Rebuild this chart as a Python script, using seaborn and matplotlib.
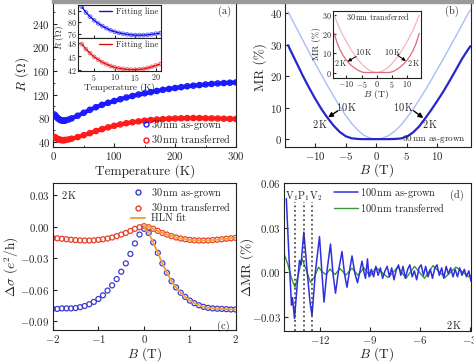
import numpy as np
import matplotlib
matplotlib.use("Agg")
import matplotlib.pyplot as plt
import seaborn as sns
from matplotlib.ticker import FuncFormatter, MultipleLocator, FixedLocator
from matplotlib.lines import Line2D
from matplotlib.patches import Rectangle

sns.set_style("ticks")
plt.rcParams["font.family"] = ["cmr10", "DejaVu Serif"]
plt.rcParams["mathtext.fontset"] = "cm"
plt.rcParams["axes.formatter.use_mathtext"] = True
plt.rcParams["axes.unicode_minus"] = True

# ---------------- data ----------------
# (a) R vs T
temp_main = [2, 4, 6, 8, 10, 12, 14, 16, 18, 20, 25, 30, 40, 50, 60, 70, 80, 90, 100,
             110, 120, 130, 140, 150, 160, 170, 180, 190, 200, 210, 220, 230, 240,
             250, 260, 270, 280, 290, 300]
R_grown = [86.0, 83.5, 81.0, 79.3, 77.8, 76.6, 75.9, 75.6, 75.7, 76.0, 77.5, 79.5,
           84.0, 89.0, 94.0, 98.5, 102.5, 106.0, 109.0, 112.0, 115.0, 117.5, 120.0,
           122.0, 124.0, 126.0, 128.0, 129.5, 131.0, 132.5, 134.0, 135.0, 136.0,
           137.0, 138.0, 138.8, 139.4, 140.0, 140.5]
R_trans = [48.0, 46.5, 45.3, 44.3, 43.5, 43.0, 42.6, 42.5, 42.6, 43.0, 43.8, 45.0,
           47.8, 51.0, 54.5, 58.0, 61.3, 64.3, 67.0, 69.3, 71.3, 73.0, 74.5, 75.7,
           76.7, 77.6, 78.3, 78.9, 79.4, 79.7, 80.0, 80.1, 80.0, 79.8, 79.6, 79.3,
           79.0, 78.7, 78.5]
temp_inset = [2, 3, 4, 5, 6, 7, 8, 9, 10, 11, 12, 13, 14, 15, 16, 17, 18, 19, 20, 21]
Rin_grown = [85.5, 83.5, 82.0, 80.7, 79.6, 78.7, 77.9, 77.2, 76.7, 76.3, 76.0, 75.8,
             75.6, 75.5, 75.5, 75.5, 75.6, 75.8, 76.0, 76.2]
Rin_trans = [47.7, 46.6, 45.7, 44.9, 44.3, 43.7, 43.3, 42.9, 42.6, 42.4, 42.25, 42.15,
             42.1, 42.1, 42.15, 42.25, 42.45, 42.7, 43.0, 43.3]

# (b) MR vs B, 30 nm as-grown
B_mr = [-14.45, -14, -13, -12, -11, -10, -9, -8, -7, -6, -5, -4, -3, -2, -1, 0,
        1, 2, 3, 4, 5, 6, 7, 8, 9, 10, 11, 12, 13, 14, 15, 15.4]
MR_10K = [40.4, 38.8, 35.0, 31.3, 27.6, 24.0, 20.5, 17.0, 13.7, 10.4, 7.5, 4.9, 2.8,
          1.2, 0.3, 0.0, 0.3, 1.1, 2.5, 4.4, 6.8, 9.5, 12.4, 15.5, 18.8, 22.2, 25.6,
          29.1, 32.6, 36.2, 39.8, 41.0]
MR_2K = [29.8, 28.0, 24.0, 20.0, 16.3, 12.8, 9.6, 6.8, 4.3, 2.3, 0.9, 0.25, 0.05, 0.0,
         0.0, 0.0, 0.0, 0.0, 0.05, 0.2, 0.8, 2.1, 4.0, 6.6, 9.3, 12.2, 15.2, 18.5,
         21.9, 25.4, 28.4, 29.5]
# (b) inset, 30 nm transferred
B_in = [-14, -13, -12, -11, -10, -9, -8, -7, -6, -5, -4, -3, -2, -1, 0,
        1, 2, 3, 4, 5, 6, 7, 8, 9, 10, 11, 12, 13, 14]
MRin_10K = [29.8, 25.8, 22.2, 19.0, 16.0, 13.3, 10.8, 8.5, 6.4, 4.6, 3.0, 1.8, 0.8,
            0.2, 0.0, 0.2, 0.8, 1.8, 3.0, 4.6, 6.4, 8.5, 10.8, 13.3, 16.0, 19.0,
            22.2, 25.8, 29.8]
MRin_2K = [20.3, 15.2, 11.5, 8.7, 6.4, 4.6, 3.2, 2.0, 1.0, 0.3, 0.0, 0.0, 0.0, 0.0,
           0.0, 0.0, 0.0, 0.0, 0.0, 0.3, 1.0, 2.0, 3.2, 4.6, 6.4, 8.7, 11.5, 15.2, 20.3]

# (c) delta sigma vs B
B_c = [-2.0, -1.9, -1.8, -1.7, -1.6, -1.5, -1.4, -1.3, -1.2, -1.1, -1.0, -0.9, -0.8,
       -0.7, -0.6, -0.5, -0.4, -0.3, -0.2, -0.1, 0.0, 0.1, 0.2, 0.3, 0.4, 0.5, 0.6,
       0.7, 0.8, 0.9, 1.0, 1.1, 1.2, 1.3, 1.4, 1.5, 1.6, 1.7, 1.8, 1.9, 2.0]
dsig_grown = [-0.0785, -0.0785, -0.078, -0.078, -0.078, -0.0777, -0.0768, -0.0757,
              -0.0740, -0.0718, -0.069, -0.0655, -0.061, -0.056, -0.050, -0.043,
              -0.035, -0.026, -0.016, -0.0075, -0.002, -0.006, -0.015, -0.025,
              -0.035, -0.044, -0.052, -0.058, -0.063, -0.067, -0.0705, -0.073,
              -0.075, -0.0765, -0.0775, -0.078, -0.0783, -0.0785, -0.0787, -0.079,
              -0.079]
dsig_trans = [-0.0107, -0.0111, -0.0115, -0.012, -0.0124, -0.0128, -0.0131, -0.0132,
              -0.0132, -0.013, -0.0126, -0.012, -0.0113, -0.0103, -0.009, -0.0075,
              -0.006, -0.004, -0.002, -0.0005, 0.0005, -0.0005, -0.002, -0.004,
              -0.006, -0.0075, -0.009, -0.0103, -0.0113, -0.012, -0.0126, -0.013,
              -0.0132, -0.0132, -0.0131, -0.0128, -0.0124, -0.012, -0.0115, -0.0111,
              -0.0107]
B_fit = [0.0, 0.1, 0.2, 0.3, 0.4, 0.5, 0.6, 0.7, 0.8, 0.9, 1.0, 1.1, 1.2, 1.3, 1.4,
         1.5, 1.6, 1.7, 1.8, 1.9, 2.0]
fit_grown = [-0.001, -0.006, -0.015, -0.025, -0.035, -0.044, -0.052, -0.058, -0.063,
             -0.067, -0.0705, -0.073, -0.075, -0.0765, -0.0775, -0.078, -0.0783,
             -0.0785, -0.0787, -0.0789, -0.079]
fit_trans = [0.0005, -0.0005, -0.002, -0.004, -0.006, -0.0075, -0.009, -0.0103,
             -0.0113, -0.012, -0.0126, -0.013, -0.0132, -0.0132, -0.0131, -0.0128,
             -0.0124, -0.012, -0.0115, -0.0111, -0.0107]

# (d) delta MR oscillations
B_d_grown = [-14.02, -13.86, -13.71, -13.65, -13.53, -13.35, -13.23, -13.14, -12.97,
             -12.75, -12.60, -12.48, -12.27, -12.03, -11.88, -11.76, -11.58, -11.37,
             -11.22, -11.07, -10.89, -10.68, -10.53, -10.38, -10.23, -10.08, -9.90,
             -9.75, -9.60, -9.48, -9.36, -9.27, -9.15, -9.06,
             -8.92, -8.78, -8.65, -8.51, -8.38, -8.24, -8.10, -7.97, -7.83, -7.70,
             -7.56, -7.42, -7.29, -7.15, -7.02, -6.88, -6.74, -6.61, -6.47, -6.34,
             -6.20, -6.06, -5.93, -5.79, -5.66, -5.52, -5.38, -5.25, -5.11, -4.98,
             -4.84, -4.70, -4.57, -4.43, -4.30, -4.16, -4.02, -3.89, -3.75, -3.62,
             -3.48, -3.34, -3.21, -3.07, -2.94]
dMR_grown = [0.0495, 0.010, -0.022, -0.017, -0.031, -0.006, 0.008, 0.005, 0.027,
             -0.002, -0.020, -0.029, 0.001, 0.024, -0.001, -0.020, 0.001, 0.019,
             -0.001, -0.014, 0.001, 0.014, -0.001, -0.010, 0.001, 0.011, -0.001,
             -0.007, 0.001, 0.0075, 0.000, -0.004, 0.009, -0.003,
             0.002, -0.003, 0.004, -0.002, 0.003, -0.004, 0.001, 0.004, -0.003, 0.003,
             -0.005, 0.002, 0.005, -0.002, 0.004, -0.004, 0.002, 0.005, -0.003, 0.001,
             -0.005, 0.003, 0.005, -0.002, 0.004, -0.003, 0.002, -0.004, 0.003, 0.005,
             -0.002, 0.003, -0.004, 0.004, -0.001, 0.003, -0.003, 0.002, -0.003, 0.003,
             -0.002, 0.002, -0.003, 0.001, -0.006]
B_d_trans = [-14.16, -13.92, -13.71, -13.50, -13.29, -13.08, -12.84, -12.57, -12.33,
             -12.09, -11.88, -11.64, -11.40, -11.10, -10.80, -10.44, -10.08, -9.72,
             -9.36, -9.00, -8.64, -7.92, -7.32, -6.84, -6.33, -5.73, -5.22, -4.50,
             -3.84, -3.06, -2.94]
dMR_trans = [0.0125, 0.005, -0.004, -0.010, -0.001, 0.0092, 0.002, -0.0068, -0.003,
             0.0035, 0.0005, -0.0015, 0.0022, -0.0015, 0.0025, -0.0018, 0.0028,
             -0.002, 0.003, -0.0025, 0.0032, -0.0035, 0.0035, -0.004, 0.004, -0.004,
             0.0045, -0.0035, 0.0035, -0.003, -0.002]
osc_lines = [-13.50, -12.96, -12.48]

# ---------------- figure ----------------
W, H = 474, 362
fig = plt.figure(figsize=(4.74, 3.62), dpi=100)

TICK_FS = 7.8
LAB_FS = 9.6
LEG_FS = 7.4


def rect(l, t, r, b):
    return [l / W, 1 - b / H, (r - l) / W, (b - t) / H]


def ftext(x, y, s, **kw):
    kw.setdefault("ha", "center")
    kw.setdefault("va", "center")
    return fig.text(x / W, 1 - y / H, s, **kw)


def style(ax, fs=TICK_FS, length=3, pad=2.2):
    ax.tick_params(direction="in", length=length, width=0.8, labelsize=fs,
                   top=False, right=False, pad=pad)
    ax.tick_params(which="minor", direction="in", length=length * 0.55, width=0.6)
    for s in ax.spines.values():
        s.set_linewidth(0.8)
        s.set_color("#222222")


def fmt2(v, p):
    return r"$\mathdefault{%.2f}$" % v if abs(v) > 1e-9 else r"$\mathdefault{0.00}$"


blue_a = "#1a1aff"
red_a = "#ff1a1a"

# ---- (a)
axA = fig.add_axes(rect(53.3, -1, 236, 146.7))
for y, c in [(R_grown, blue_a), (R_trans, red_a)]:
    sns.lineplot(x=temp_main, y=y, ax=axA, color=c, lw=3.0, sort=False)
    sns.scatterplot(x=temp_main, y=y, ax=axA, marker="o", s=14, color=c,
                    facecolor="none", edgecolor=c, linewidth=1.0, zorder=3)
axA.set_xlim(0, 300)
axA.set_ylim(31.5, 282)
axA.xaxis.set_major_locator(MultipleLocator(100))
axA.xaxis.set_minor_locator(MultipleLocator(50))
axA.yaxis.set_major_locator(FixedLocator([40, 80, 120, 160, 200, 240]))
axA.yaxis.set_minor_locator(MultipleLocator(20))
axA.set_xlabel("")
axA.set_ylabel("")
style(axA)
hA = [Line2D([], [], ls="none", marker="o", mfc="none", mec=blue_a, ms=3.6, mew=1.0),
      Line2D([], [], ls="none", marker="o", mfc="none", mec=red_a, ms=3.6, mew=1.0)]
axA.legend(hA, [r"30$\,$nm as-grown", r"30$\,$nm transferred"], loc="lower right",
           bbox_to_anchor=(0.985, -0.005), frameon=False, fontsize=LEG_FS,
           handletextpad=0.0, handlelength=1.0, labelspacing=0.05,
           borderaxespad=0.0, borderpad=0.2)
ftext(225, 11, "(a)", fontsize=LEG_FS)

# (a) inset
in_top = fig.add_axes(rect(77.7, 5, 160.7, 37.7))
in_bot = fig.add_axes(rect(77.7, 37.7, 160.7, 71))
for ax, y, cm, cf, yl, yt in [
        (in_top, Rin_grown, "#7070ff", "#1010dd", (74.6, 86.1), [76, 80, 84]),
        (in_bot, Rin_trans, "#f07070", "#dd1010", (41.8, 49.1), [42, 45, 48])]:
    sns.scatterplot(x=temp_inset, y=y, ax=ax, marker="o", s=7, color=cm,
                    facecolor="none", edgecolor=cm, linewidth=0.7, zorder=2)
    sns.lineplot(x=temp_inset, y=y, ax=ax, color=cf, lw=1.0, sort=False, zorder=3)
    ax.set_xlim(1, 21.2)
    ax.set_ylim(*yl)
    ax.set_yticks(yt)
    ax.set_xticks([5, 10, 15, 20])
    ax.set_xlabel("")
    ax.set_ylabel("")
    style(ax, fs=5.8, length=2, pad=0.8)
    ax.legend([Line2D([], [], color=cf, lw=1.0)], ["Fitting line"], loc="upper right",
              frameon=False, fontsize=6.2, handlelength=1.5, handletextpad=0.4,
              borderaxespad=0.1, borderpad=0.2)
in_top.tick_params(labelbottom=False)
ftext(119, 87.5, "Temperature (K)", fontsize=6.8)
ftext(60, 38, r"$R$ ($\Omega$)", fontsize=6.6, rotation=90)

# ---- (b)
axB = fig.add_axes(rect(285.3, -1, 471, 147))
sns.lineplot(x=B_mr, y=MR_10K, ax=axB, color="#a9bff2", lw=1.0, sort=False)
sns.lineplot(x=B_mr, y=MR_2K, ax=axB, color="#2626cf", lw=1.6, sort=False)
axB.set_xlim(-14.9, 15.5)
axB.set_ylim(-2.5, 44.5)
axB.set_xticks([-10, -5, 0, 5, 10])
axB.set_yticks([0, 10, 20, 30, 40])
axB.set_xlabel("")
axB.set_ylabel("")
style(axB)
ap = dict(arrowstyle="-|>", color="black", lw=1.0, mutation_scale=7,
          shrinkA=0, shrinkB=0)
axB.annotate("", xy=(-7.9, 6.9), xytext=(-6.3, 9.0), arrowprops=ap)
axB.annotate("", xy=(7.7, 6.7), xytext=(6.1, 9.0), arrowprops=ap)
axB.text(-4.9, 10.2, r"10$\,$K", fontsize=LEG_FS, ha="center", va="center")
axB.text(-9.2, 4.8, r"2$\,$K", fontsize=LEG_FS, ha="center", va="center")
axB.text(4.5, 10.2, r"10$\,$K", fontsize=LEG_FS, ha="center", va="center")
axB.text(8.8, 4.8, r"2$\,$K", fontsize=LEG_FS, ha="center", va="center")
ftext(466, 139, r"30$\,$nm as-grown", fontsize=6.6, ha="right")
ftext(452, 11, "(b)", fontsize=LEG_FS)

# (b) inset
axBi = fig.add_axes(rect(332.7, 11, 420.7, 77.7))
sns.lineplot(x=B_in, y=MRin_10K, ax=axBi, color="#f5b3c2", lw=0.9, sort=False)
sns.lineplot(x=B_in, y=MRin_2K, ax=axBi, color="#dc6a7c", lw=0.9, sort=False)
axBi.set_xlim(-14.5, 14.5)
axBi.set_ylim(-2.7, 32)
axBi.set_xticks([-10, -5, 0, 5, 10])
axBi.set_yticks([0, 10, 20, 30])
axBi.set_xlabel("")
axBi.set_ylabel("")
style(axBi, fs=5.8, length=2, pad=1.0)
api = dict(arrowstyle="-|>", color="black", lw=0.7, mutation_scale=5,
           shrinkA=0, shrinkB=0)
axBi.annotate("", xy=(-9.6, 5.7), xytext=(-6.8, 8.3), arrowprops=api)
axBi.annotate("", xy=(9.6, 6.0), xytext=(6.8, 9.1), arrowprops=api)
axBi.text(-4.2, 10.5, r"10$\,$K", fontsize=5.8, ha="center", va="center")
axBi.text(-11.8, 5.1, r"2$\,$K", fontsize=5.8, ha="center", va="center")
axBi.text(5.3, 10.5, r"10$\,$K", fontsize=5.8, ha="center", va="center")
axBi.text(12.3, 5.1, r"2$\,$K", fontsize=5.8, ha="center", va="center")
axBi.text(0.5, 29, r"30$\,$nm transferred", fontsize=5.9, ha="center", va="center")
ftext(376, 94.5, r"$B$ (T)", fontsize=7.0)
ftext(316.5, 44, "MR (%)", fontsize=6.6, rotation=90)

# ---- (c)
axC = fig.add_axes(rect(52.7, 182.7, 235.5, 330.3))
sns.scatterplot(x=B_c, y=dsig_grown, ax=axC, marker="o", s=13, color="#3b3bd0",
                facecolor="none", edgecolor="#3b3bd0", linewidth=0.9, zorder=2)
sns.scatterplot(x=B_c, y=dsig_trans, ax=axC, marker="o", s=13, color="#e8402a",
                facecolor="none", edgecolor="#e8402a", linewidth=0.9, zorder=2)
sns.lineplot(x=B_fit, y=fit_grown, ax=axC, color="#f3a23a", lw=1.4, sort=False, zorder=3)
sns.lineplot(x=B_fit, y=fit_trans, ax=axC, color="#f3a23a", lw=1.4, sort=False, zorder=3)
axC.set_xlim(-2, 2)
axC.set_ylim(-0.0989, 0.042)
axC.set_xticks([-2, -1, 0, 1, 2])
axC.set_yticks([-0.09, -0.06, -0.03, 0.0, 0.03])
axC.yaxis.set_major_formatter(FuncFormatter(fmt2))
axC.set_xlabel("")
axC.set_ylabel("")
style(axC)
hC = [Line2D([], [], ls="none", marker="o", mfc="none", mec="#3b3bd0", ms=3.6, mew=1.0),
      Line2D([], [], ls="none", marker="o", mfc="none", mec="#e8402a", ms=3.6, mew=1.0),
      Line2D([], [], color="#f3a23a", lw=1.4)]
axC.legend(hC, [r"30$\,$nm as-grown", r"30$\,$nm transferred", "HLN fit"],
           loc="upper right", bbox_to_anchor=(0.99, 1.0), frameon=False,
           fontsize=LEG_FS, handlelength=1.4, handletextpad=0.5, labelspacing=0.05,
           borderaxespad=0.1, borderpad=0.2)
axC.text(0.09, 0.92, r"2$\,$K", transform=axC.transAxes, fontsize=LEG_FS,
         ha="center", va="center")
ftext(223, 326, "(c)", fontsize=LEG_FS)

# ---- (d)
axD = fig.add_axes(rect(284, 183, 471, 331))
sns.lineplot(x=B_d_trans, y=dMR_trans, ax=axD, color="#3a943a", lw=1.0, sort=False)
sns.lineplot(x=B_d_grown, y=dMR_grown, ax=axD, color="#2f2fe0", lw=1.1, sort=False)
axD.vlines(osc_lines, -0.0394, 0.047, colors="#333333", linestyles=(0, (1.2, 1.8)),
           lw=1.1)
axD.set_xlim(-14.16, -2.94)
axD.set_ylim(-0.0394, 0.06)
axD.set_xticks([-12, -9, -6, -3])
axD.set_yticks([-0.03, 0.0, 0.03, 0.06])
axD.yaxis.set_major_formatter(FuncFormatter(fmt2))
axD.set_xlabel("")
axD.set_ylabel("")
style(axD)
hD = [Line2D([], [], color="#2f2fe0", lw=1.1), Line2D([], [], color="#3a943a", lw=1.0)]
axD.legend(hD, [r"100$\,$nm as-grown", r"100$\,$nm transferred"], loc="upper right",
           bbox_to_anchor=(0.88, 1.0), frameon=False, fontsize=LEG_FS,
           handlelength=2.4, handletextpad=0.2, labelspacing=0.05,
           borderaxespad=0.1, borderpad=0.2)
axD.text(-12.96, 0.051, r"V$_1$P$_1$V$_2$", fontsize=LEG_FS, ha="center", va="center")
ftext(457, 195, "(d)", fontsize=LEG_FS)
ftext(454, 325, r"2$\,$K", fontsize=LEG_FS)

# axis labels
ftext(22, 74, r"$R$ ($\Omega$)", fontsize=LAB_FS, rotation=90)
ftext(145, 171, "Temperature (K)", fontsize=LAB_FS)
ftext(260, 67, "MR (%)", fontsize=LAB_FS, rotation=90)
ftext(377, 170, r"$B$ (T)", fontsize=LAB_FS)
ftext(12, 267, r"$\Delta\sigma$ ($e^2$/h)", fontsize=LAB_FS, rotation=90)
ftext(145, 354, r"$B$ (T)", fontsize=LAB_FS)
ftext(247, 267, r"$\Delta$MR (%)", fontsize=LAB_FS, rotation=90)
ftext(377, 354, r"$B$ (T)", fontsize=LAB_FS)

fig.patches.append(Rectangle((52 / W, 1 - 2.5 / H), (W - 52) / W, 2.5 / H,
                             transform=fig.transFigure, color="#9a9a9a", zorder=10))

fig.savefig("out.png", dpi=100)
